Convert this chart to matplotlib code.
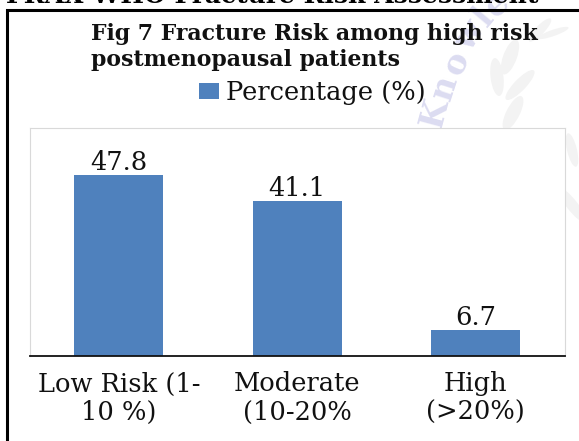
import matplotlib
matplotlib.use("Agg")
import matplotlib.pyplot as plt
from matplotlib.patches import Ellipse, Rectangle

categories = ["Low Risk (1-\n10 %)", "Moderate\n(10-20%", "High\n(>20%)"]
percentages = [47.8, 41.1, 6.7]
title = "Fig 7 Fracture Risk among high risk\npostmenopausal patients"
legend_label = "Percentage (%)"
page_heading = "FRAX WHO Fracture Risk Assessment"

W, H = 579, 441
BLUE = "#4f81bd"
plt.rcParams["font.family"] = ["DejaVu Serif"]


def px(x, y):
    return x / W, 1 - y / H


fig = plt.figure(figsize=(W / 100, H / 100), dpi=100)

# faint watermark behind the chart: letters and laurel leaves
for ch, x, y, rot in [("K", 435, 113, 75), ("n", 445, 88, 72), ("o", 456, 63, 66),
                      ("w", 470, 36, 58), ("l", 484, 17, 50), ("e", 497, 5, 42)]:
    fig.text(*px(x, y), ch, fontsize=24, fontweight="bold", color="#dcdcf1", rotation=rot,
             ha="center", va="center", zorder=0)
for x, y, w, h, ang in [(510, 57, 14, 36, -15), (497, 77, 13, 38, 5), (520, 85, 13, 36, -35),
                        (513, 113, 14, 36, -20), (540, 30, 10, 28, -35), (553, 33, 8, 26, -65),
                        (572, 205, 12, 40, 30), (572, 150, 10, 34, 10)]:
    fig.add_artist(Ellipse(px(x, y), w / W, h / H, angle=ang, transform=fig.transFigure,
                           color="#f3f3f3", linewidth=0, zorder=0))

ax = fig.add_axes([29.6 / W, 1 - 355.5 / H, 535.4 / W, 227.5 / H], zorder=2)

ax.bar(range(3), percentages, width=0.5, color=BLUE)
ax.set_xlim(-0.5, 2.5)
ax.set_ylim(0, 60.4)
ax.set_yticks([])
ax.set_xticks(range(3))
ax.set_xticklabels(categories, fontsize=18.5, linespacing=1.19, color="#111111")
ax.tick_params(axis="x", length=0, pad=11.5)
for x, v in zip(range(3), percentages):
    ax.annotate(f"{v}", (x, v), xytext=(0, 0), textcoords="offset points",
                ha="center", va="bottom", fontsize=18.5, color="#111111")

for side in ["top", "left", "right"]:
    ax.spines[side].set_color("#d9d9d9")
    ax.spines[side].set_linewidth(0.8)
ax.spines["bottom"].set_color("#111111")
ax.spines["bottom"].set_linewidth(1.3)

# outer frame of the pasted chart, runs off the right and bottom edges
fig.add_artist(Rectangle((7 / W, -0.05), 1.1, 1 - 9.5 / H + 0.05, transform=fig.transFigure,
                         fill=False, edgecolor="black", linewidth=2.2, zorder=5))

fig.text(*px(91, 47), title, fontsize=15.8, fontweight="bold", color="#111111",
         ha="left", va="center", linespacing=1.27, zorder=6)
fig.add_artist(Rectangle(px(199, 99), 20 / W, 16 / H, transform=fig.transFigure,
                         color=BLUE, linewidth=0, zorder=6))
fig.text(*px(226, 92.5), legend_label, fontsize=18.5, color="#111111", ha="left", va="center", zorder=6)
fig.text(*px(272, -4), page_heading, fontsize=18, fontweight="bold", color="black",
         ha="center", va="center", zorder=6)

fig.savefig("out.png", dpi=100)
